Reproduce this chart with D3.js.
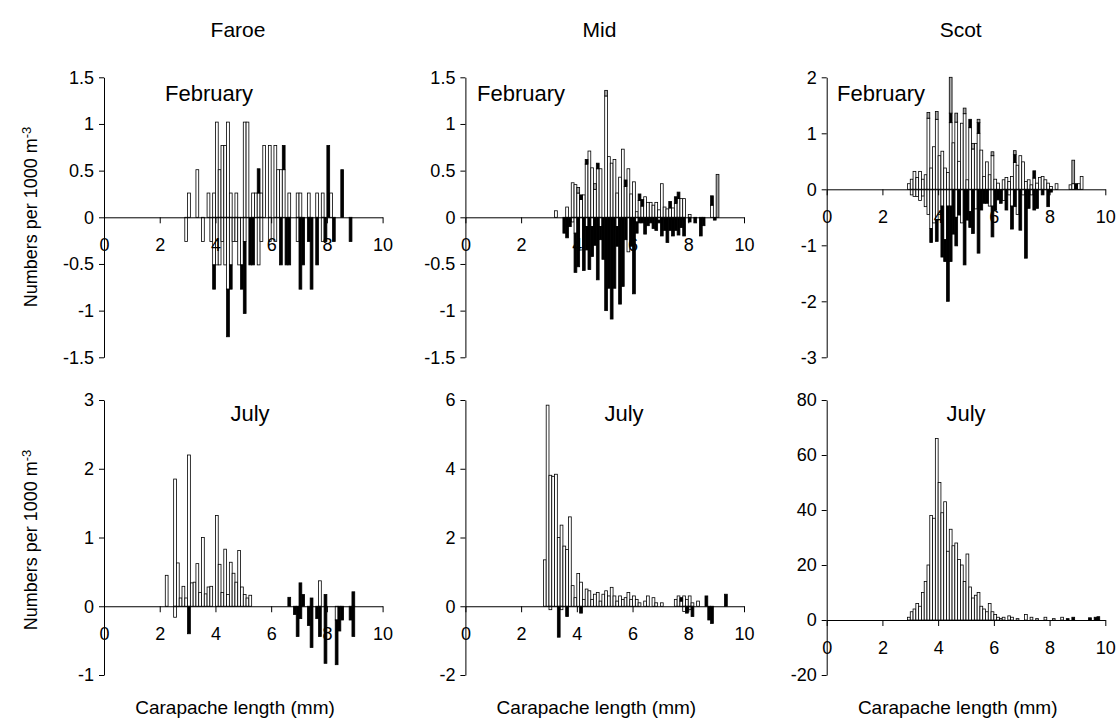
<!DOCTYPE html>
<html>
<head>
<meta charset="utf-8">
<script src="https://cdn.jsdelivr.net/npm/d3@7/dist/d3.min.js"></script>
<style>
body { margin: 0; background: #fff; }
text { font-family: "Liberation Sans", Arial, sans-serif; fill: #000; }
</style>
</head>
<body>
<svg id="chart" width="1120" height="720"></svg>
<script>
/* global d3 */

// column titles, rows, axis ticks
var regions = ["Faroe", "Mid", "Scot"];
var months = ["February", "July"];
var xTickValues = [0, 2, 4, 6, 8, 10];
var yTicksFaroeFeb = [-1.5, -1, -0.5, 0, 0.5, 1, 1.5];
var yTicksMidFeb = [-1.5, -1, -0.5, 0, 0.5, 1, 1.5];
var yTicksScotFeb = [-3, -2, -1, 0, 1, 2];
var yTicksFaroeJul = [-1, 0, 1, 2, 3];
var yTicksMidJul = [-2, 0, 2, 4, 6];
var yTicksScotJul = [-20, 0, 20, 40, 60, 80];

// [carapace length bin (mm), numbers per 1000 m3]
var faroeFebWhiteUp = [[3.0,.26],[3.3,.51],[3.7,.26],[3.9,.26],[4.0,1.02],[4.1,.51],[4.2,.77],[4.3,.77],[4.4,1.02],[4.5,.26],[4.7,.26],[5.0,1.02],[5.1,1.02],[5.3,.26],[5.4,.26],[5.5,.26],[5.6,.26],[5.7,.77],[5.9,.77],[6.1,.77],[6.2,.51],[6.3,.51],[6.4,.51],[6.6,.26],[6.9,.26],[7.0,.26],[7.3,.26],[7.6,.26],[7.8,.26],[8.1,.26]];
var faroeFebBlackUp = [[5.5,.26],[6.4,.26],[8.0,.77],[8.5,.51]];
var faroeFebWhiteDown = [[2.9,-.26],[3.5,-.26],[3.8,-.26],[3.9,-.51],[4.0,-.51],[4.1,-.51],[4.2,-.26],[4.3,-.51],[4.4,-.77],[4.5,-.51],[4.6,-.26],[4.7,-.26],[4.8,-.51],[4.9,-.51],[5.0,-.26],[5.5,-.51],[5.6,-.26],[5.9,-.26],[6.1,-.26],[6.9,-.26],[7.8,-.26]];
var faroeFebBlackDown = [[3.9,-.26],[4.4,-.51],[4.5,-.26],[4.9,-.26],[5.0,-.77],[5.2,-.51],[5.3,-.51],[6.3,-.51],[6.5,-.51],[6.6,-.51],[7.0,-.77],[7.1,-.51],[7.3,-.26],[7.4,-.77],[7.6,-.51],[7.9,-.26],[8.2,-.26],[8.8,-.26]];

var midFebWhiteUp = [[3.2,.07],[3.6,.11],[3.8,.37],[3.9,.35],[4.0,.26],[4.1,.19],[4.2,.24],[4.3,.57],[4.4,.71],[4.5,.53],[4.6,.3],[4.7,.52],[4.8,.52],[5.0,1.3],[5.1,.65],[5.2,.58],[5.3,.62],[5.4,.26],[5.5,.43],[5.6,.73],[5.7,.33],[5.8,.52],[5.9,.25],[6.0,.38],[6.1,.06],[6.2,.18],[6.3,.12],[6.4,.22],[6.5,.16],[6.6,.16],[6.7,.13],[6.8,.16],[6.9,.08],[7.0,.36],[7.1,.11],[7.2,.09],[7.3,.1],[7.4,.1],[7.5,.15],[7.6,.2],[7.7,.2],[7.8,.2],[8.0,.03],[8.8,.13]];
var midFebBlackUp = [[4.1,.05],[4.3,.05],[4.7,.06],[5.7,.07],[6.2,.07],[6.3,.07],[7.3,.07],[7.5,.07],[7.6,.07],[8.8,.1]];
var midFebGreyUp = [[4.0,.06],[4.6,.06],[5.0,.06],[9.0,.46]];
var midFebWhiteDown = [[3.8,-.05],[3.9,-.17],[4.1,-.35],[4.3,-.1],[4.5,-.1],[4.8,-.1],[5.4,-.1],[5.8,-.37],[6.1,-.05],[6.9,-.03]];
var midFebBlackDown = [[3.5,-.17],[3.6,-.22],[3.7,-.1],[3.9,-.42],[4.0,-.53],[4.2,-.57],[4.3,-.25],[4.4,-.56],[4.5,-.32],[4.6,-.3],[4.7,-.67],[4.8,-.14],[4.9,-.45],[5.0,-1.0],[5.1,-.76],[5.2,-1.09],[5.3,-.76],[5.4,-.21],[5.5,-.93],[5.6,-.74],[5.7,-.24],[5.9,-.31],[6.0,-.82],[6.1,-.12],[6.2,-.06],[6.3,-.06],[6.4,-.18],[6.5,-.09],[6.6,-.06],[6.7,-.12],[6.8,-.14],[6.9,-.03],[7.0,-.2],[7.1,-.14],[7.2,-.27],[7.3,-.14],[7.4,-.2],[7.5,-.14],[7.6,-.19],[7.7,-.11],[7.8,-.2],[8.0,-.05],[8.2,-.06],[8.4,-.2],[8.5,-.09],[8.9,-.03]];

var scotFebWhiteUp = [[2.9,.1],[3.0,.18],[3.1,.32],[3.2,.21],[3.3,.32],[3.4,.18],[3.5,.26],[3.6,1.27],[3.7,.38],[3.8,.76],[3.9,1.25],[4.0,.6],[4.1,.68],[4.2,.38],[4.3,.3],[4.4,1.19],[4.5,.83],[4.6,1.2],[4.7,.5],[4.8,1.18],[4.9,1.35],[5.0,.17],[5.1,1.1],[5.2,.72],[5.3,.82],[5.4,1.0],[5.5,.7],[5.6,.23],[5.7,.49],[5.8,.26],[5.9,.6],[6.0,.18],[6.1,.11],[6.3,.17],[6.4,.21],[6.5,.14],[6.6,.23],[6.7,.48],[6.8,.43],[6.9,.6],[7.0,.49],[7.1,.14],[7.2,.17],[7.3,.08],[7.4,.2],[7.5,.11],[7.6,.21],[7.7,.23],[7.8,.17],[7.9,.11],[8.0,.05],[8.2,.1],[8.7,.08],[8.8,.1],[9.0,.1],[9.1,.23]];
var scotFebBlackUp = [[4.4,.17],[5.1,.15],[5.4,.19],[6.7,.14],[7.4,.13],[8.9,.1]];
var scotFebGreyUp = [[3.6,.1],[3.9,.14],[4.4,.64],[4.6,.16],[4.9,.1],[5.2,.1],[5.4,.06],[5.9,.07],[6.7,.07],[8.8,.42]];
var scotFebWhiteDown = [[3.0,-.1],[3.1,-.13],[3.2,-.13],[3.3,-.2],[3.4,-.12],[3.5,-.31],[3.6,-.45],[3.7,-.7],[3.8,-.6],[3.9,-.55],[4.0,-.45],[4.1,-.3],[4.2,-.9],[4.3,-.3],[4.4,-.3],[4.6,-.5],[4.8,-.6],[5.1,-.4],[5.3,-.35],[5.8,-.3],[5.9,-.3],[6.3,-.2],[6.5,-.1],[6.6,-.3],[6.8,-.45],[7.0,-.1],[7.3,-.1]];
var scotFebBlackDown = [[3.7,-.25],[3.9,-.38],[4.1,-.91],[4.2,-.39],[4.3,-1.7],[4.4,-.99],[4.5,-.8],[4.6,-.51],[4.7,-.46],[4.9,-1.35],[5.0,-.55],[5.1,-.28],[5.2,-.79],[5.4,-1.14],[5.5,-.37],[5.6,-.25],[5.7,-.25],[5.9,-.55],[6.0,-.37],[6.1,-.19],[6.2,-.25],[6.4,-.37],[6.6,-.41],[6.7,-.31],[6.9,-.73],[7.1,-1.23],[7.2,-.34],[7.4,-.37],[7.5,-.34],[7.7,-.1],[7.9,-.31],[8.0,-.05]];

var faroeJulWhiteUp = [[2.2,.45],[2.5,1.85],[2.6,.63],[2.7,.12],[2.8,.29],[2.9,.12],[3.0,2.2],[3.1,.34],[3.2,.35],[3.3,.62],[3.4,.2],[3.5,1.0],[3.6,.18],[3.7,.28],[3.8,.29],[4.0,1.32],[4.1,.61],[4.2,.2],[4.3,.83],[4.4,.17],[4.5,.64],[4.6,.48],[4.7,.35],[4.8,.81],[4.9,.28],[5.0,.17],[5.1,.12],[5.2,.16],[7.7,.37]];
var faroeJulBlackUp = [[6.6,.13],[7.0,.34],[7.1,.17],[7.4,.12],[7.9,.17],[8.9,.21]];
var faroeJulWhiteDown = [[2.5,-.16],[8.3,-.2]];
var faroeJulBlackDown = [[3.0,-.4],[6.8,-.12],[6.9,-.44],[7.0,-.18],[7.3,-.28],[7.4,-.6],[7.6,-.18],[7.7,-.44],[7.9,-.83],[8.3,-.65],[8.4,-.36],[8.5,-.2],[8.8,-.2],[8.9,-.44]];

var midJulWhiteUp = [[2.8,1.35],[2.9,5.85],[3.0,3.81],[3.1,3.78],[3.2,3.84],[3.3,2.0],[3.4,2.36],[3.5,1.75],[3.6,1.65],[3.7,2.6],[3.8,.6],[3.9,.25],[4.0,.95],[4.1,.7],[4.2,.2],[4.3,.5],[4.4,.45],[4.5,.2],[4.6,.35],[4.7,.4],[4.8,.15],[4.9,.35],[5.0,.45],[5.1,.3],[5.2,.55],[5.3,.3],[5.4,.15],[5.5,.3],[5.6,.2],[5.7,.25],[5.8,.4],[5.9,.2],[6.0,.3],[6.1,.2],[6.2,.1],[6.4,.15],[6.5,.3],[6.7,.25],[6.8,.1],[7.0,.1],[7.5,.2],[7.6,.3],[7.7,.15],[7.8,.3],[7.9,.2],[8.0,.3],[8.1,.1],[8.3,.15]];
var midJulBlackUp = [[7.7,.1],[8.6,.3],[9.3,.35]];
var midJulWhiteDown = [[3.0,-.1],[3.4,-.1],[7.8,-.15],[8.0,-.1]];
var midJulBlackDown = [[3.3,-.9],[3.6,-.3],[4.1,-.2],[7.9,-.2],[8.1,-.3],[8.7,-.4],[8.8,-.5]];

var scotJulWhiteUp = [[2.9,1],[3.0,3],[3.1,4],[3.2,6],[3.3,5],[3.4,10],[3.5,14],[3.6,20],[3.7,38],[3.8,37],[3.9,66],[4.0,50],[4.1,39],[4.2,43],[4.3,25],[4.4,33],[4.5,27],[4.6,28],[4.7,22],[4.8,20],[4.9,14],[5.0,24],[5.1,12],[5.2,8],[5.3,9],[5.4,10],[5.5,5],[5.6,4],[5.7,3],[5.8,6],[5.9,3],[6.0,2],[6.1,1],[6.2,.5],[6.3,1],[6.5,1.5],[6.6,1],[6.8,.5],[7.1,2],[7.3,1],[7.5,.5],[7.8,1],[8.1,.5],[8.4,1]];
var scotJulBlackUp = [[8.6,.5],[8.8,1],[9.4,.8],[9.6,1],[9.7,1.2]];

var seriesKeys = ["whiteUp", "blackUp", "greyUp", "whiteDown", "blackDown"];
var seriesFill = { whiteUp: "#fff", blackUp: "#000", greyUp: "#a6a6a6", whiteDown: "#fff", blackDown: "#000" };

// panel layout
var colX = [104, 465.4, 826.7];
var plotW = 278.6;
var rowTop = [77.3, 400];
var rowBottom = [357.3, 675];

var panels = [
    { col: 0, row: 0, domain: [-1.5, 1.5], ticks: yTicksFaroeFeb, labelX: 209, labelY: 101,
      series: { whiteUp: faroeFebWhiteUp, blackUp: faroeFebBlackUp, whiteDown: faroeFebWhiteDown, blackDown: faroeFebBlackDown } },
    { col: 1, row: 0, domain: [-1.5, 1.5], ticks: yTicksMidFeb, labelX: 521, labelY: 101,
      series: { whiteUp: midFebWhiteUp, blackUp: midFebBlackUp, greyUp: midFebGreyUp, whiteDown: midFebWhiteDown, blackDown: midFebBlackDown } },
    { col: 2, row: 0, domain: [-3, 2], ticks: yTicksScotFeb, labelX: 881, labelY: 101,
      series: { whiteUp: scotFebWhiteUp, blackUp: scotFebBlackUp, greyUp: scotFebGreyUp, whiteDown: scotFebWhiteDown, blackDown: scotFebBlackDown } },
    { col: 0, row: 1, domain: [-1, 3], ticks: yTicksFaroeJul, labelX: 250, labelY: 421,
      series: { whiteUp: faroeJulWhiteUp, blackUp: faroeJulBlackUp, whiteDown: faroeJulWhiteDown, blackDown: faroeJulBlackDown } },
    { col: 1, row: 1, domain: [-2, 6], ticks: yTicksMidJul, labelX: 624, labelY: 421,
      series: { whiteUp: midJulWhiteUp, blackUp: midJulBlackUp, whiteDown: midJulWhiteDown, blackDown: midJulBlackDown } },
    { col: 2, row: 1, domain: [-20, 80], ticks: yTicksScotJul, labelX: 966, labelY: 421,
      series: { whiteUp: scotJulWhiteUp, blackUp: scotJulBlackUp } }
];

var svg = d3.select("#chart");

function buildRows(series) {
    var byBin = {};
    seriesKeys.forEach(function (key) {
        (series[key] || []).forEach(function (p) {
            var k = p[0].toFixed(1);
            if (!byBin[k]) {
                byBin[k] = { bin: p[0] };
                seriesKeys.forEach(function (s) { byBin[k][s] = 0; });
            }
            byBin[k][key] = p[1];
        });
    });
    return Object.keys(byBin).map(function (k) { return byBin[k]; })
        .sort(function (a, b) { return a.bin - b.bin; });
}

panels.forEach(function (p) {
    var x = d3.scaleLinear().domain([0, 10]).range([colX[p.col], colX[p.col] + plotW]);
    var y = d3.scaleLinear().domain(p.domain).range([rowBottom[p.row], rowTop[p.row]]);
    var g = svg.append("g");

    var rows = buildRows(p.series);
    var stacked = d3.stack().keys(seriesKeys).offset(d3.stackOffsetDiverging)(rows);
    var barW = x(0.1) - x(0);

    g.selectAll("g.layer")
        .data(stacked)
        .join("g")
        .attr("class", "layer")
        .attr("fill", function (d) { return seriesFill[d.key]; })
        .selectAll("rect")
        .data(function (d) { return d.filter(function (v) { return v[1] !== v[0]; }); })
        .join("rect")
        .attr("x", function (d) { return x(d.data.bin); })
        .attr("width", barW)
        .attr("y", function (d) { return y(Math.max(d[0], d[1])); })
        .attr("height", function (d) { return Math.abs(y(d[0]) - y(d[1])); })
        .attr("stroke", "#000")
        .attr("stroke-width", 0.8);

    // value axis
    var yAxis = g.append("g")
        .attr("transform", "translate(" + colX[p.col] + ",0)")
        .call(d3.axisLeft(y).tickValues(p.ticks).tickSize(5).tickSizeOuter(0).tickPadding(5)
            .tickFormat(function (d) { return String(d); }));
    yAxis.selectAll("text").style("font-size", "18px");

    // length axis through zero
    var xAxis = g.append("g")
        .attr("transform", "translate(0," + y(0) + ")")
        .call(d3.axisBottom(x).tickValues(xTickValues).tickSize(6).tickSizeOuter(0).tickPadding(15));
    xAxis.selectAll("text").style("font-size", "18px");
    g.selectAll(".domain, .tick line").attr("stroke", "#000").attr("stroke-width", 1);

    g.append("text")
        .attr("x", p.labelX)
        .attr("y", p.labelY)
        .attr("text-anchor", "middle")
        .style("font-size", "22px")
        .text(months[p.row]);
});

// column titles
regions.forEach(function (r, i) {
    svg.append("text")
        .attr("x", colX[i] + 134)
        .attr("y", 37)
        .attr("text-anchor", "middle")
        .style("font-size", "21px")
        .text(r);

    svg.append("text")
        .attr("x", colX[i] + 131)
        .attr("y", 714)
        .attr("text-anchor", "middle")
        .style("font-size", "19px")
        .text("Carapache length (mm)");
});

// y titles on the left column
[217, 540].forEach(function (cy) {
    var t = svg.append("text")
        .attr("transform", "translate(37," + cy + ") rotate(-90)")
        .attr("text-anchor", "middle")
        .style("font-size", "18px");
    t.append("tspan").text("Numbers per 1000 m");
    t.append("tspan").attr("dy", "-0.5em").style("font-size", "13px").text("-3");
});
</script>
</body>
</html>
